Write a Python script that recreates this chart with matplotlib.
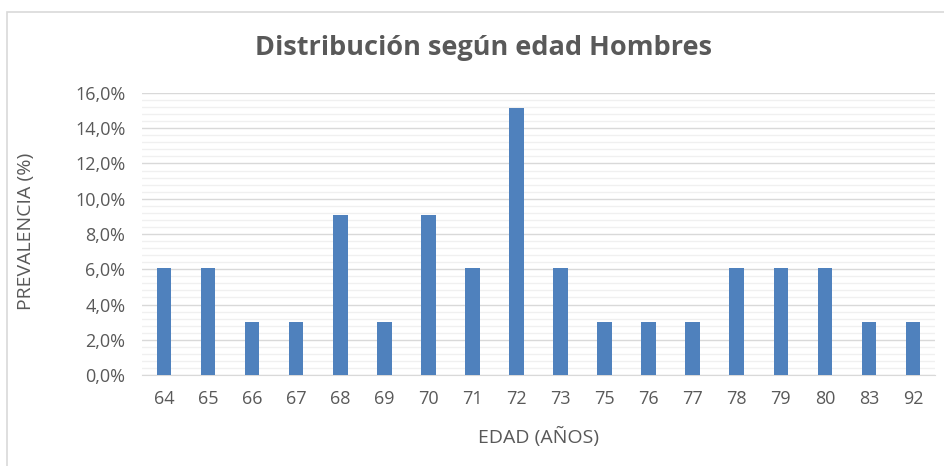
import numpy as np
import matplotlib.pyplot as plt
from matplotlib.patches import Rectangle
from matplotlib.ticker import MultipleLocator, FuncFormatter

# Datos (edad y prevalencia en %)
edades = ['64', '65', '66', '67', '68', '69', '70', '71', '72', '73',
          '75', '76', '77', '78', '79', '80', '83', '92']
prevalencia = [6.06, 6.06, 3.03, 3.03, 9.09, 3.03, 9.09, 6.06, 15.15, 6.06,
               3.03, 3.03, 3.03, 6.06, 6.06, 6.06, 3.03, 3.03]

gris = '#595959'
azul = '#4f81bd'

plt.rcParams['font.family'] = ['Open Sans', 'DejaVu Sans']

fig = plt.figure(figsize=(9.45, 4.66), dpi=100)
fig.patches.append(Rectangle((7 / 945, -0.1), 1.2, 1 - 12 / 466 + 0.1,
                             transform=fig.transFigure, fill=False,
                             edgecolor='#d9d9d9', linewidth=1.2))

ax = fig.add_axes([142 / 945, 91 / 466, 793 / 945, 282 / 466])
x = np.arange(len(edades))
ax.bar(x, prevalencia, width=0.33, color=azul, zorder=3)

ax.set_xlim(-0.5, len(edades) - 0.5)
ax.set_ylim(0, 16)
ax.yaxis.set_major_locator(MultipleLocator(2))
ax.yaxis.set_minor_locator(MultipleLocator(0.4))
ax.yaxis.set_major_formatter(FuncFormatter(lambda v, p: f'{v:.1f}%'.replace('.', ',')))
ax.grid(axis='y', which='major', color='#d9d9d9', linewidth=1, zorder=0)
ax.grid(axis='y', which='minor', color='#f0f0f0', linewidth=1, zorder=0)

ax.set_xticks(x)
ax.set_xticklabels(edades)
for s in ['top', 'right', 'left']:
    ax.spines[s].set_visible(False)
ax.spines['bottom'].set_color('#d9d9d9')
ax.tick_params(axis='both', which='both', length=0, colors=gris, labelsize=13)
ax.tick_params(axis='x', pad=11)
ax.tick_params(axis='y', pad=12)

# Títulos de ejes y del gráfico
fig.text(538 / 945, 1 - 437 / 466, 'EDAD (AÑOS)', color=gris, fontsize=14,
         ha='center', va='center')
fig.text(26 / 945, 1 - 231 / 466, 'PREVALENCIA (%)', color=gris, fontsize=14,
         ha='center', va='center', rotation=90)
fig.text(484 / 945, 1 - 48 / 466, 'Distribución según edad Hombres',
         ha='center', va='center', fontsize=19.5, fontweight='bold', color=gris)

fig.savefig('out.png', dpi=100)
